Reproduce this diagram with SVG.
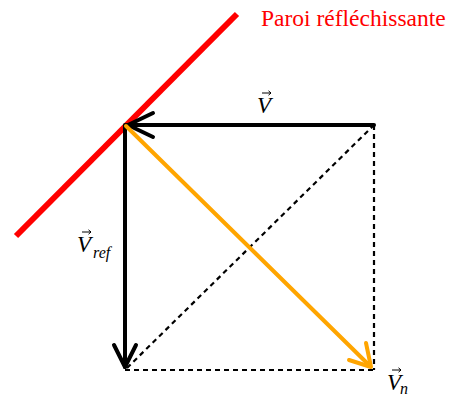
<svg xmlns="http://www.w3.org/2000/svg" width="450" height="398" viewBox="0 0 450 398">
<defs>
<path id="ar" d="M0,0 H9 M6.5,-2.2 L9,0 L6.5,2.2" stroke="#000" stroke-width="1" fill="none"/>
</defs>
<style>
.dash{stroke:#000;stroke-width:2.2;stroke-dasharray:5,4;fill:none}
.vec{stroke:#000;stroke-width:4;fill:none;stroke-linecap:round;stroke-linejoin:round}
.lbl{font-family:"Liberation Serif",serif;font-style:italic;font-size:23px;fill:#000}
.sub{font-family:"Liberation Serif",serif;font-style:italic;font-size:16px;fill:#000}
</style>
<rect width="450" height="398" fill="#fff"/>
<g id="wall">
<line x1="16" y1="236" x2="237" y2="14" stroke="#ff0000" stroke-width="6"/>
<text x="261" y="26" font-family="Liberation Serif,serif" font-size="23.5" fill="#ff0000">Paroi réfléchissante</text>
</g>
<g id="connectors">
<line class="dash" x1="374" y1="125" x2="374" y2="370"/>
<line class="dash" x1="125" y1="370" x2="374" y2="370"/>
<line class="dash" x1="127" y1="368" x2="374" y2="125"/>
</g>
<g id="V">
<line class="vec" x1="374" y1="125" x2="127" y2="125"/>
<polyline class="vec" points="153,113 128,125 153,137"/>
<text class="lbl" x="257" y="113">V</text>
<use href="#ar" x="262" y="93"/>
</g>
<g id="Vref">
<line class="vec" x1="125" y1="125" x2="125" y2="367"/>
<polyline class="vec" points="114,345 125,367 136,345"/>
<text class="lbl" x="77" y="252">V</text>
<use href="#ar" x="82" y="232"/>
<text class="sub" x="93" y="258">ref</text>
</g>
<g id="Vn">
<line x1="126" y1="126" x2="370" y2="366" stroke="#ffa500" stroke-width="4" stroke-linecap="round"/>
<polyline points="349,360 371,367 366,343" stroke="#ffa500" stroke-width="4" fill="none" stroke-linecap="round" stroke-linejoin="round"/>
<text class="lbl" x="387" y="390">V</text>
<use href="#ar" x="392" y="370"/>
<text class="sub" x="400" y="394">n</text>
</g>
</svg>
